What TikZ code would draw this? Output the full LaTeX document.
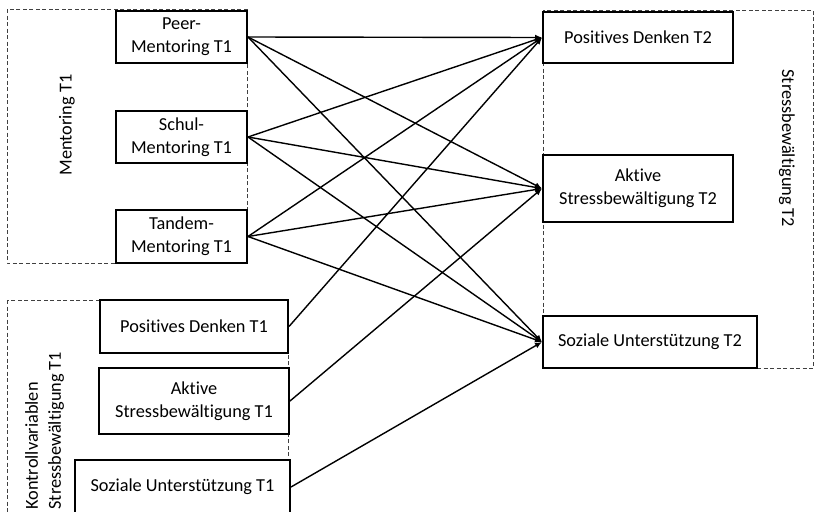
\documentclass[tikz,border=0pt]{standalone}
\usepackage{fontspec}
\setmainfont[Ligatures=NoCommon]{Carlito}
\usetikzlibrary{arrows.meta}
\begin{document}
\begin{tikzpicture}[x=1pt, y=-1pt, font=\fontsize{18.3}{23}\selectfont,
  box/.style={draw, line width=2pt, fill=white, align=center, inner sep=0pt},
  grp/.style={draw=black!75, dash pattern=on 4pt off 2.5pt, line width=0.9pt},
  arr/.style={-{Latex[length=7pt,width=6pt]}, line width=1.4pt}]
\useasboundingbox (0, 0) rectangle (815, 512);
\draw[grp] (7, 9) rectangle (247, 263);
\draw[grp] (7, 300) rectangle (288, 530);
\draw[grp] (543, 10) rectangle (813, 368);

\node[box, minimum width=131pt, minimum height=52pt] (peer) at (181.5, 37) {Peer-\\Mentoring T1};
\node[box, minimum width=131pt, minimum height=52pt] (schul) at (181.5, 137) {Schul-\\Mentoring T1};
\node[box, minimum width=131pt, minimum height=53pt] (tandem) at (181.5, 236.5) {Tandem-\\Mentoring T1};
\node[box, minimum width=188pt, minimum height=53pt] (posA) at (194, 326.5) {Positives Denken T1};
\node[box, minimum width=190pt, minimum height=66pt] (aktA) at (194, 401) {Aktive\\Stressbewältigung T1};
\node[box, minimum width=215pt, minimum height=54pt] (sozA) at (182.5, 487) {Soziale Unterstützung T1};

\node[box, minimum width=190pt, minimum height=51pt] (posB) at (638, 37.5) {Positives Denken T2};
\node[box, minimum width=190pt, minimum height=67pt] (aktB) at (638, 188.5) {Aktive\\Stressbewältigung T2};
\node[box, minimum width=214pt, minimum height=52pt] (sozB) at (650, 342) {Soziale Unterstützung T2};

\node[rotate=90] (mentoring) at (67, 125) {Mentoring T1};
\node[rotate=90, anchor=west, align=left] (kontroll) at (44.5, 513) {Kontrollvariablen\\Stressbewältigung T1};
\node[rotate=-90, anchor=west] (stressT2) at (787, 66) {Stressbewältigung T2};

% Pfade
\draw[arr] (peer.east) -- (posB.west);
\draw[arr] (peer.east) -- (aktB.west);
\draw[arr] (peer.east) -- (sozB.west);
\draw[arr] (schul.east) -- (posB.west);
\draw[arr] (schul.east) -- (aktB.west);
\draw[arr] (schul.east) -- (sozB.west);
\draw[arr] (tandem.east) -- (posB.west);
\draw[arr] (tandem.east) -- (aktB.west);
\draw[arr] (tandem.east) -- (sozB.west);
\draw[arr] (posA.east) -- (posB.west);
\draw[arr] (aktA.east) -- (aktB.west);
\draw[arr] (sozA.east) -- (sozB.west);

\end{tikzpicture}
\end{document}
